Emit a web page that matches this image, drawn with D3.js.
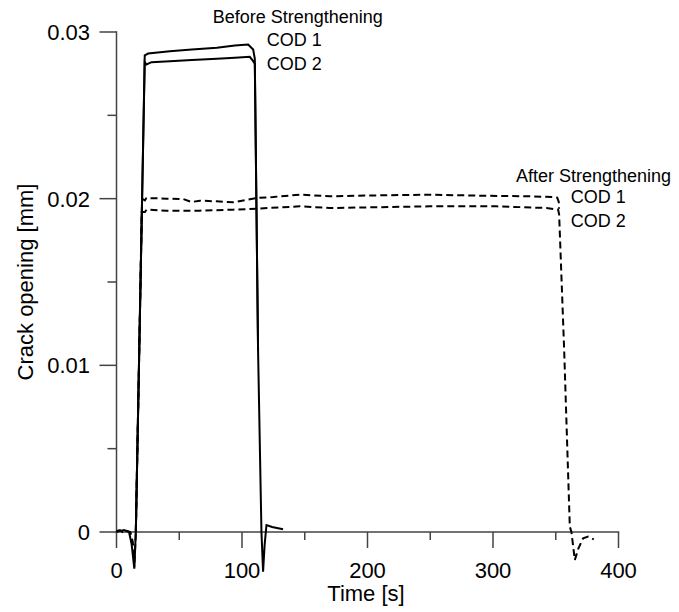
<!DOCTYPE html>
<html lang="en">
<head>
<meta charset="UTF-8">
<title>Crack opening</title>
<script src="https://d3js.org/d3.v7.min.js"></script>
<style>
  body { margin: 0; background: #fff; }
  text { font-family: "Liberation Sans", Arial, sans-serif; fill: #000; }
</style>
</head>
<body>
<script>
// time [s] and crack opening [mm]
var beforeT1 = [0, 2, 4, 6, 8, 10, 12, 14.2, 15.4, 18, 20.5, 22.5, 25.2, 42.5, 60, 80, 94.3, 104.9, 108.9, 110.2, 112.8, 115.5, 116.8, 118, 119.5, 124, 132.7];
var beforeV1 = [0.00005, 0.0001, 0.00008, 0.00012, 0.00006, 0.0, -0.0007, -0.0022, 0.0, 0.0104, 0.0204, 0.0286, 0.02871, 0.02885, 0.02895, 0.02905, 0.02919, 0.02925, 0.02895, 0.0284, 0.0109, 0.0, -0.00238, -0.0008, 0.00042, 0.0003, 0.00016];
var beforeT2 = [15.4, 18, 20.5, 22.5, 23.9, 27.9, 42.5, 60, 80, 94.3, 106.2, 108.9, 110.2, 112.8];
var beforeV2 = [0.0, 0.0104, 0.0204, 0.0282, 0.02805, 0.02819, 0.02825, 0.02832, 0.0284, 0.02845, 0.02851, 0.02825, 0.0281, 0.0109];

var afterT1 = [0, 3, 5, 7, 9, 11, 13, 14.2, 15.4, 18, 20.4, 22.6, 23.9, 40, 53.1, 59.8, 66.4, 79.7, 92.9, 111.6, 124.8, 146, 170, 209.8, 249.6, 289.5, 329.3, 347.9, 351.2, 352.4, 352.6];
var afterV1 = [0.0, 0.00008, 0.0, 0.0001, 0.00005, 0.0, -0.0006, -0.0021, 0.0, 0.0104, 0.0200, 0.0199, 0.02004, 0.02, 0.01998, 0.0198, 0.01988, 0.01984, 0.01978, 0.02004, 0.0201, 0.02024, 0.02014, 0.0202, 0.02024, 0.02018, 0.02014, 0.0201, 0.02006, 0.0198, 0.0194];
var afterT2 = [15.4, 18, 20.1, 22.6, 23.9, 39.8, 66.4, 92.9, 111.6, 146, 170, 249.6, 302.8, 342.6, 351.9, 352.7, 356.7, 361.2, 362.5, 365.2, 368, 371.8, 375.8, 378, 380.3];
var afterV2 = [0.0, 0.0104, 0.0192, 0.0192, 0.01934, 0.01928, 0.01928, 0.01934, 0.0194, 0.01954, 0.01944, 0.01954, 0.01954, 0.01944, 0.01934, 0.01904, 0.01093, 0.00032, 0.0, -0.00168, -0.001, -0.00038, -0.00028, -0.00036, -0.00044];

var xMajor = [0, 100, 200, 300, 400];
var xMinor = [50, 150, 250, 350];
var yMajor = [0, 0.01, 0.02, 0.03];
var yMinor = [0.005, 0.015, 0.025];
var yLabels = ["0", "0.01", "0.02", "0.03"];

var svg = d3.select("body").append("svg")
    .attr("width", 679)
    .attr("height", 612);

var x = d3.scaleLinear().domain([0, 400]).range([116.5, 618.5]);
var y = d3.scaleLinear().domain([0, 0.03]).range([532, 32]);

// axes: lines and ticks as thin filled rects
var axisColor = "#444";
var ax = svg.append("g").attr("fill", axisColor);

var xTicks = xMajor.map(function(d) { return [d, 16]; }).concat(xMinor.map(function(d) { return [d, 8]; }));
var yTicks = yMajor.map(function(d) { return [d, 17]; }).concat(yMinor.map(function(d) { return [d, 9]; }));

ax.append("rect").attr("x", x(0) - 0.75).attr("y", y(0) - 0.75).attr("width", x(400) - x(0) + 1.5).attr("height", 1.5);
ax.append("rect").attr("x", x(0) - 0.75).attr("y", y(0.03) - 0.75).attr("width", 1.5).attr("height", y(0) - y(0.03) + 1.5);

ax.selectAll("rect.xt").data(xTicks).enter().append("rect")
    .attr("class", "xt")
    .attr("x", function(d) { return x(d[0]) - 0.75; })
    .attr("y", y(0))
    .attr("width", 1.5)
    .attr("height", function(d) { return d[1]; });

ax.selectAll("rect.yt").data(yTicks).enter().append("rect")
    .attr("class", "yt")
    .attr("x", function(d) { return x(0) - d[1]; })
    .attr("y", function(d) { return y(d[0]) - 0.75; })
    .attr("width", function(d) { return d[1]; })
    .attr("height", 1.5);

svg.selectAll(".xl").data(xMajor).enter().append("text")
    .attr("x", function(d) { return x(d); })
    .attr("y", 578)
    .attr("text-anchor", "middle")
    .style("font-size", "22px")
    .text(function(d) { return d; });

svg.selectAll(".yl").data(yMajor).enter().append("text")
    .attr("x", 90)
    .attr("y", function(d) { return y(d); })
    .attr("dy", "0.36em")
    .attr("text-anchor", "end")
    .style("font-size", "22px")
    .text(function(d, i) { return yLabels[i]; });

// axis titles
svg.append("text")
    .attr("x", 366).attr("y", 601)
    .attr("text-anchor", "middle")
    .style("font-size", "22px")
    .text("Time [s]");
svg.append("text")
    .attr("transform", "translate(33,282) rotate(-90)")
    .attr("text-anchor", "middle")
    .style("font-size", "22px")
    .text("Crack opening [mm]");

// curves
var line = d3.line()
    .x(function(d) { return x(d[0]); })
    .y(function(d) { return y(d[1]); });

function pairs(t, v) { return t.map(function(d, i) { return [d, v[i]]; }); }

[[afterT1, afterV1], [afterT2, afterV2]].forEach(function(s) {
    svg.append("path")
        .attr("d", line(pairs(s[0], s[1])))
        .attr("fill", "none")
        .attr("stroke", "#000")
        .attr("stroke-width", 2)
        .attr("stroke-dasharray", "7,4");
});
[[beforeT1, beforeV1], [beforeT2, beforeV2]].forEach(function(s) {
    svg.append("path")
        .attr("d", line(pairs(s[0], s[1])))
        .attr("fill", "none")
        .attr("stroke", "#000")
        .attr("stroke-width", 2);
});

// annotations
var notes = [
    { t: "Before Strengthening", px: 212.7, py: 23 },
    { t: "COD 1", px: 266.7, py: 46 },
    { t: "COD 2", px: 266.7, py: 70 },
    { t: "After Strengthening", px: 516, py: 182 },
    { t: "COD 1", px: 570.7, py: 203 },
    { t: "COD 2", px: 570.7, py: 227 }
];
svg.selectAll(".note").data(notes).enter().append("text")
    .attr("class", "note")
    .attr("x", function(d) { return d.px; })
    .attr("y", function(d) { return d.py; })
    .style("font-size", "18px")
    .text(function(d) { return d.t; });
</script>
</body>
</html>
